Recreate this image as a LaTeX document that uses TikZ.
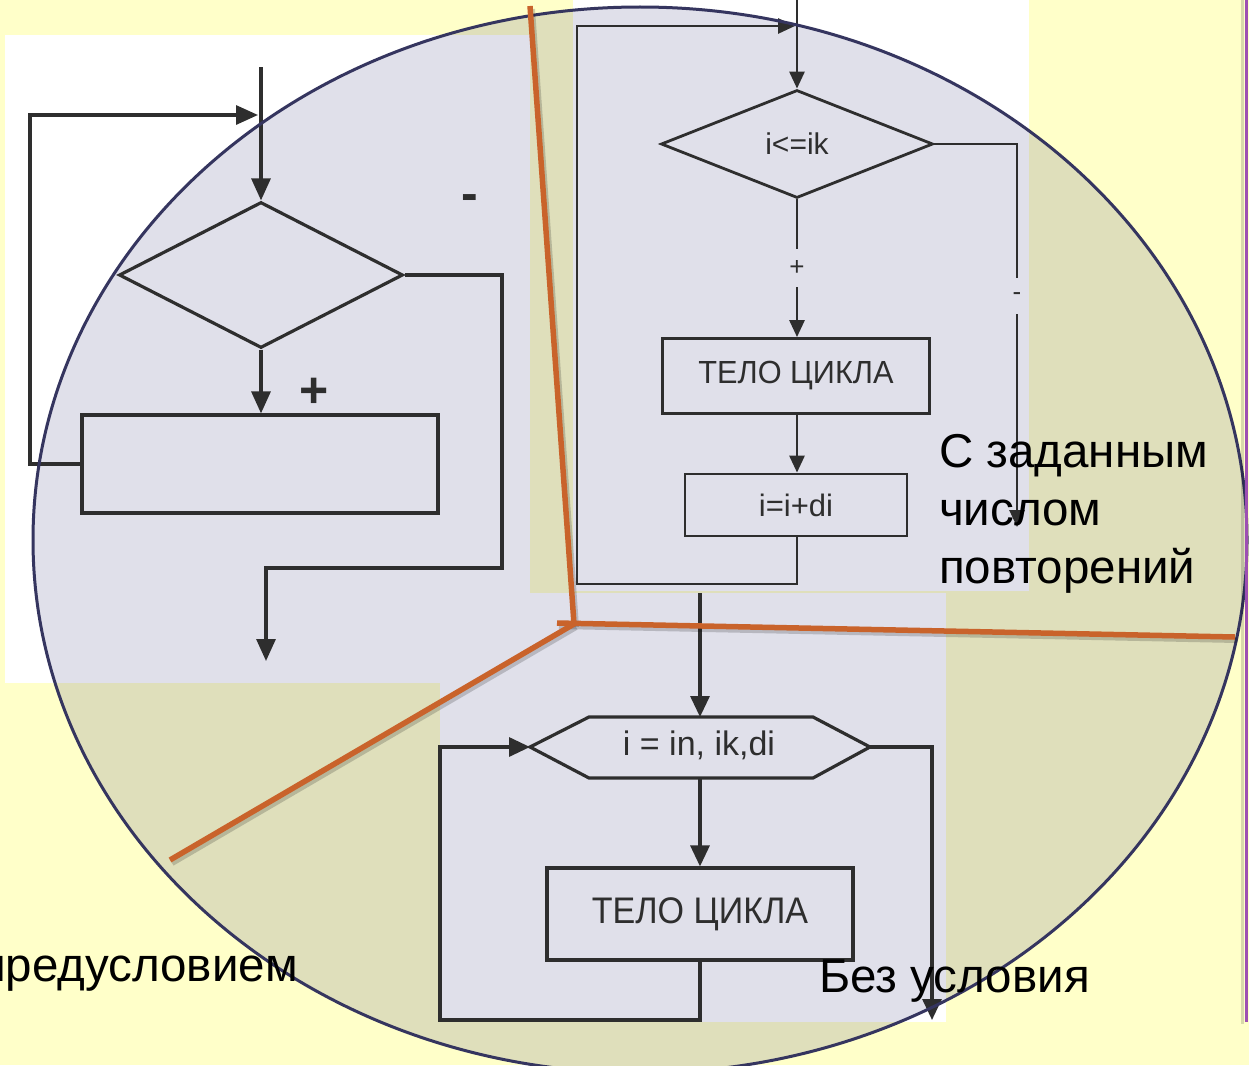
\documentclass[tikz,border=0pt]{standalone}
\usepackage{fontspec}
\setmainfont{Liberation Sans}
\usepackage{graphicx}
\usetikzlibrary{arrows.meta,shapes.geometric}

\definecolor{pagebg}{HTML}{FFFFC9}
\definecolor{lav}{HTML}{E0E0EA}
\definecolor{olive}{HTML}{DFDFBB}
\definecolor{rim}{HTML}{35355F}
\definecolor{rust}{HTML}{C9632B}
\definecolor{plum}{HTML}{9D4FB3}
\definecolor{ink}{HTML}{2E2E2E}
\definecolor{inktext}{HTML}{2E2E2E}

% horizontally squeezed text, as in the scanned charts
\newcommand{\condensed}[2][0.9]{\scalebox{#1}[1]{#2}}

\begin{document}
\begin{tikzpicture}[x=1pt,y=-1pt,
  flowA/.style={draw=ink, line width=3.2pt},
  flowB/.style={draw=ink, line width=2.8pt},
  flowC/.style={draw=ink, line width=3.2pt},
  tipA/.style={-{Triangle[length=22pt,width=19pt]}},
  tipB/.style={-{Triangle[length=17pt,width=15pt]}},
  tipC/.style={-{Triangle[length=21pt,width=19pt]}},
  decide/.style={shape=diamond, draw=ink, inner sep=0pt, text=inktext},
  blk/.style={shape=rectangle, draw=ink, inner sep=0pt, text=inktext},
  gap/.style={fill=lav, inner sep=1pt, text=inktext},
  sign/.style={inner sep=0pt, font=\bfseries\fontsize{50}{50}\selectfont, text=ink},
  big/.style={inner sep=0pt, font=\fontsize{47.5}{58}\selectfont, text=black},
  divider/.style={draw=rust, line width=5.5pt},
  dividershade/.style={draw=black, opacity=0.18, line width=6pt},
]
\useasboundingbox (0,0) rectangle (1249,1065);
\clip (0,0) rectangle (1249,1065);

% page background
\fill[pagebg] (0,0) rectangle (1249,1065);

% the three chart panels
\fill[white] (5,35) rectangle (530,683);
\fill[white] (573,0) rectangle (1029,591);
\fill[white] (440,593) rectangle (946,1022);

% tinted oval
\fill[olive] (640,540) ellipse [x radius=607, y radius=533];
\begin{scope}
  \clip (640,540) ellipse [x radius=607, y radius=533];
  \fill[lav] (5,35) rectangle (530,683);
  \fill[lav] (573,0) rectangle (1029,591);
  \fill[lav] (440,593) rectangle (946,1022);
\end{scope}

% ---- loop with precondition ----
\coordinate (aIn) at (261,67);
\coordinate (aJoin) at (258,115);
\coordinate (aOut) at (266,661);
\node[decide, flowA, minimum width=284pt, minimum height=146pt] (aDec) at (261,275) {};
\node[blk, flowA, minimum width=356pt, minimum height=98pt] (aBody) at (260,464) {};
\draw[flowA, tipA] (aIn) -- (aDec.north);
\draw[flowA, tipA] (aDec.south) -- (aBody.north -| aDec.south);
\draw[flowA, tipA] (aBody.west) -| (30,115) -- (aJoin);
\draw[flowA, tipA] (aDec.east) -- (502,275) |- (266,568) -- (aOut);
\node[sign] (aPlus) at (314,393) {+};
\node[sign] (aMinus) at (470,203) {-};

% ---- counted loop ----
\coordinate (bIn) at (797,0);
\coordinate (bJoin) at (795,26);
\coordinate (bEnd) at (1017,527);
\node[decide, flowB, minimum width=272pt, minimum height=108pt,
      font=\fontsize{30}{30}\selectfont] (bDec) at (797,144) {i<=ik};
\node[blk, flowB, minimum width=267pt, minimum height=75pt,
      font=\fontsize{32}{32}\selectfont] (bBody) at (796,376) {\condensed[0.96]{ТЕЛО ЦИКЛА}};
\node[blk, flowB, minimum width=222pt, minimum height=62pt,
      font=\fontsize{31}{31}\selectfont] (bStep) at (796,505) {i=i+di};
\draw[flowB, tipB] (bIn) -- (bDec.north);
\draw[flowB, tipB] (bDec.south) -- node[gap, minimum height=38pt, font=\fontsize{26}{26}\selectfont] (bPlus) {+} (bBody.north -| bDec.south);
\draw[flowB, tipB] (bBody.south -| bDec.south) -- (bStep.north -| bDec.south);
\draw[flowB, tipB] (bStep.south -| bDec.south) -- (797,584) -| (577,26) -- (bJoin);
\draw[flowB, tipB] (bDec.east) -- (1017,144) -- node[gap, pos=0.397, minimum height=36pt, font=\fontsize{26}{26}\selectfont] (bMinus) {-} (bEnd);

% ---- unconditional (for) loop ----
\coordinate (cIn) at (700,593);
\coordinate (cW) at (530,747);
\coordinate (cNW) at (589,717);
\coordinate (cN) at (700,717);
\coordinate (cNE) at (813,717);
\coordinate (cE) at (870,747);
\coordinate (cSE) at (813,778);
\coordinate (cS) at (700,778);
\coordinate (cSW) at (589,778);
\coordinate (cEnd) at (932,1020);
\draw[flowC] (cW) -- (cNW) -- (cNE) -- (cE) -- (cSE) -- (cSW) -- cycle;
\node[inner sep=0pt, text=inktext, font=\fontsize{34}{34}\selectfont] (cFor) at (699,745) {i = in, ik,di};
\node[blk, flowC, minimum width=306pt, minimum height=92pt,
      font=\fontsize{37}{37}\selectfont] (cBody) at (700,914) {\condensed[0.92]{ТЕЛО ЦИКЛА}};
\draw[flowC, tipC] (cIn) -- (cN);
\draw[flowC, tipC] (cS) -- (cBody.north);
\draw[flowC, tipC] (cBody.south) -- (700,1020) -| (440,747) -- (cW);
\draw[flowC, tipC] (cE) -- (932,747) -- (cEnd);

% oval rim
\draw[rim, line width=3pt] (640,540) ellipse [x radius=607, y radius=533];

% dividing lines
\coordinate (dTop) at (530,6);
\coordinate (dHub) at (574,624);
\coordinate (dHubL) at (557,623);
\coordinate (dRight) at (1235,637);
\coordinate (dLeft) at (170,860);
\draw[dividershade] ([shift={(2,3)}]dTop) -- ([shift={(2,3)}]dHub);
\draw[dividershade] ([shift={(2,3)}]dHubL) -- ([shift={(2,3)}]dRight);
\draw[dividershade] ([shift={(2,3)}]dHub) -- ([shift={(2,3)}]dLeft);
\draw[divider] (dTop) -- (dHub);
\draw[divider] (dHubL) -- (dRight);
\draw[divider] (dHub) -- (dLeft);

% captions
\node[big, anchor=base west] (capA1) at (939,467) {С заданным};
\node[big, anchor=base west] (capA2) at (939,525) {числом};
\node[big, anchor=base west] (capA3) at (939,583) {повторений};
\node[big, anchor=base west] (capB) at (819,992) {Без условия};
\node[big, anchor=base east] (capC) at (298,981) {предусловием};

% slide edge
\draw[black, opacity=0.15, line width=3pt] (1242,0) -- (1242,1024);
\draw[plum, line width=3pt] (1246,0) -- (1246,1022);
\end{tikzpicture}
\end{document}
